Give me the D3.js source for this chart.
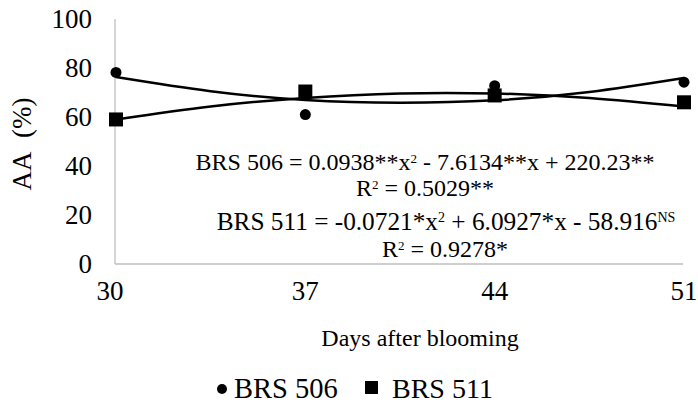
<!DOCTYPE html>
<html lang="en">
<head>
    <meta charset="UTF-8">
    <title>AA (%) vs days after blooming</title>
    <style>
        body { margin: 0; background: #fff; }
    </style>
</head>
<body>
    <script src="https://d3js.org/d3.v7.min.js"></script>
    <script>
        // data
        const days = [30, 37, 44, 51];
        const brs506 = [78.2, 61.0, 72.8, 74.2];
        const brs511 = [59.0, 70.4, 68.8, 66.0];

        // fitted curves, read at a few points along each trend line
        const trendDays = [30, 33.5, 37, 40.5, 44, 47.5, 51];
        const trend506 = [76.3, 70.5, 66.9, 65.8, 66.8, 70.2, 75.9];
        const trend511 = [59.0, 64.3, 67.8, 69.6, 69.6, 67.8, 64.3];

        const yTicks = [0, 20, 40, 60, 80, 100];
        const eq506 = ["BRS 506 = 0.0938**x", "2", " - 7.6134**x + 220.23**"];
        const r506 = "0.5029**";
        const eq511 = ["BRS 511 = -0.0721*x", "2", " + 6.0927*x - 58.916", "NS"];
        const r511 = "0.9278*";

        const serif = '"Liberation Serif", serif';
        const width = 698, height = 417;
        const svg = d3.select("body").append("svg")
            .attr("width", width)
            .attr("height", height);

        const x = d3.scaleLinear().domain([30, 51]).range([116, 684]);
        const y = d3.scaleLinear().domain([0, 100]).range([264, 19]);

        // axes lines (light grey)
        svg.append("line")
            .attr("x1", 115).attr("x2", 683)
            .attr("y1", y(0)).attr("y2", y(0))
            .attr("stroke", "#bfbfbf").attr("stroke-width", 1.3);
        svg.append("line")
            .attr("x1", 115).attr("x2", 115)
            .attr("y1", y(0)).attr("y2", y(100))
            .attr("stroke", "#bfbfbf").attr("stroke-width", 1.3);

        // tick labels
        svg.selectAll(".ytick").data(yTicks).enter()
            .append("text")
            .attr("class", "ytick")
            .attr("x", 92)
            .attr("y", d => y(d))
            .attr("dy", "0.35em")
            .attr("text-anchor", "end")
            .style("font-family", serif)
            .style("font-size", "27px")
            .text(d => d);

        svg.selectAll(".xtick").data(days).enter()
            .append("text")
            .attr("class", "xtick")
            .attr("x", d => x(d) - (d === 30 ? 6 : 0))
            .attr("y", 300)
            .attr("text-anchor", "middle")
            .style("font-family", serif)
            .style("font-size", "27px")
            .text(d => d);

        // axis titles
        svg.append("text")
            .attr("x", 420).attr("y", 346)
            .attr("text-anchor", "middle")
            .style("font-family", serif)
            .style("font-size", "24px")
            .text("Days after blooming");

        svg.append("text")
            .attr("transform", "translate(31,144) rotate(-90)")
            .attr("text-anchor", "middle")
            .style("font-family", serif)
            .style("font-size", "27px")
            .text("AA\u00a0 (%)");

        // trend lines
        const line = d3.line()
            .x(d => x(d[0]))
            .y(d => y(d[1]))
            .curve(d3.curveNatural);

        [trend506, trend511].forEach(vals => {
            svg.append("path")
                .datum(trendDays.map((d, i) => [d, vals[i]]))
                .attr("d", line)
                .attr("fill", "none")
                .attr("stroke", "#000")
                .attr("stroke-width", 2.5);
        });

        // markers
        svg.selectAll(".c506").data(days).enter()
            .append("circle")
            .attr("class", "c506")
            .attr("cx", d => x(d))
            .attr("cy", (d, i) => y(brs506[i]))
            .attr("r", 5.5)
            .attr("fill", "#000");

        const sq = 14;
        svg.selectAll(".s511").data(days).enter()
            .append("rect")
            .attr("class", "s511")
            .attr("x", d => x(d) - sq / 2)
            .attr("y", (d, i) => y(brs511[i]) - sq / 2)
            .attr("width", sq)
            .attr("height", sq)
            .attr("fill", "#000");

        // equations
        function eqText(cx, cy, parts, size) {
            const t = svg.append("text")
                .attr("x", cx).attr("y", cy)
                .attr("text-anchor", "middle")
                .style("font-family", serif)
                .style("font-size", size + "px");
            parts.forEach((p, i) => {
                const ts = t.append("tspan").text(p);
                if (i % 2 === 1) {
                    ts.attr("dy", -0.3 * size).style("font-size", Math.round(size * 0.55) + "px");
                } else if (i > 0) {
                    ts.attr("dy", 0.3 * size);
                }
            });
            return t;
        }
        eqText(425, 170, eq506, 24);
        eqText(425, 196, ["R", "2", " = " + r506], 24);
        eqText(446, 230, eq511, 25.3);
        eqText(445, 257, ["R", "2", " = " + r511], 24);

        // legend
        const legend = svg.append("g");
        legend.append("circle")
            .attr("cx", 222).attr("cy", 389).attr("r", 5).attr("fill", "#000");
        legend.append("text")
            .attr("x", 234).attr("y", 398)
            .style("font-family", serif)
            .style("font-size", "28.5px")
            .text("BRS 506");
        legend.append("rect")
            .attr("x", 365).attr("y", 381).attr("width", 13).attr("height", 13).attr("fill", "#000");
        legend.append("text")
            .attr("x", 392).attr("y", 398)
            .style("font-family", serif)
            .style("font-size", "28px")
            .text("BRS 511");
    </script>
</body>
</html>
